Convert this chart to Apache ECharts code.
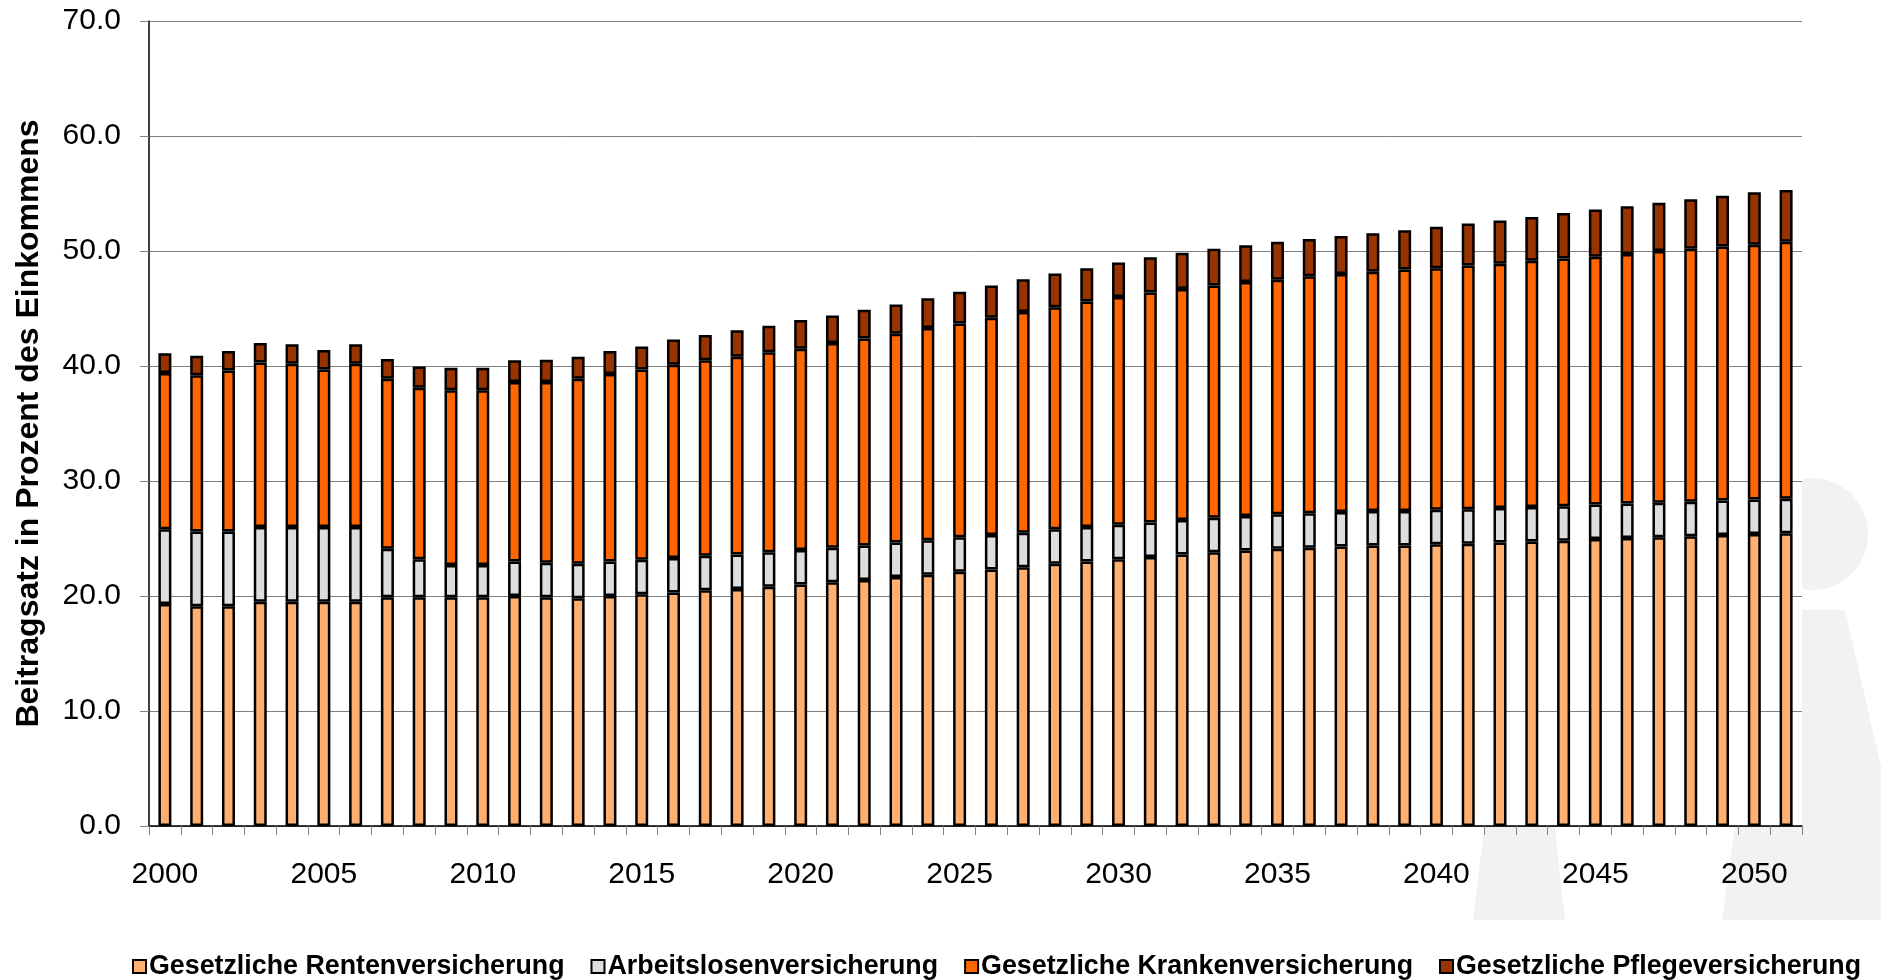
<!DOCTYPE html>
<html>
<head>
<meta charset="utf-8">
<script src="https://cdn.jsdelivr.net/npm/echarts@6/dist/echarts.min.js"></script>
<style>
  html, body { margin: 0; padding: 0; background: #fff; }
  #chart { width: 1881px; height: 980px; }
</style>
</head>
<body>
<div id="chart"></div>
<script>
var years = [
  '2000','2001','2002','2003','2004','2005','2006','2007','2008','2009',
  '2010','2011','2012','2013','2014','2015','2016','2017','2018','2019',
  '2020','2021','2022','2023','2024','2025','2026','2027','2028','2029',
  '2030','2031','2032','2033','2034','2035','2036','2037','2038','2039',
  '2040','2041','2042','2043','2044','2045','2046','2047','2048','2049',
  '2050','2051'
];

var renten = [
  19.3, 19.1, 19.1, 19.5, 19.5, 19.5, 19.5, 19.9, 19.9, 19.9,
  19.9, 20.0, 19.9, 19.8, 20.0, 20.15, 20.3, 20.5, 20.6, 20.8,
  21.0, 21.2, 21.4, 21.65, 21.85, 22.1, 22.3, 22.5, 22.8, 23.0,
  23.2, 23.4, 23.6, 23.8, 23.95, 24.1, 24.2, 24.3, 24.4, 24.4,
  24.5, 24.55, 24.65, 24.75, 24.8, 24.95, 25.05, 25.1, 25.2, 25.3,
  25.4, 25.45
];

var arbeitslosen = [
  6.5, 6.5, 6.5, 6.5, 6.5, 6.5, 6.5, 4.2, 3.3, 2.8,
  2.8, 3.0, 3.0, 3.0, 3.0, 3.0, 3.0, 3.0, 3.0, 3.0,
  3.0, 3.0, 3.0, 3.0, 3.0, 3.0, 3.0, 3.0, 3.0, 3.0,
  3.0, 3.0, 3.0, 3.0, 3.0, 3.0, 3.0, 3.0, 3.0, 3.0,
  3.0, 3.0, 3.0, 3.0, 3.0, 3.0, 3.0, 3.0, 3.0, 3.0,
  3.0, 3.0
];

var kranken = [
  13.6, 13.6, 14.0, 14.3, 14.2, 13.7, 14.2, 14.8, 14.9, 15.2,
  15.2, 15.6, 15.7, 16.1, 16.3, 16.55, 16.8, 17.0, 17.2, 17.4,
  17.5, 17.8, 18.0, 18.15, 18.45, 18.6, 18.9, 19.2, 19.3, 19.6,
  19.8, 20.0, 20.1, 20.2, 20.35, 20.4, 20.6, 20.7, 20.8, 21.0,
  21.0, 21.2, 21.25, 21.4, 21.55, 21.55, 21.7, 21.9, 22.0, 22.1,
  22.15, 22.35
];

var pflege = [
  1.7, 1.7, 1.7, 1.7, 1.7, 1.7, 1.7, 1.7, 1.85, 1.95,
  1.95, 1.9, 1.95, 1.9, 2.0, 2.0, 2.2, 2.2, 2.3, 2.3,
  2.5, 2.4, 2.5, 2.55, 2.6, 2.75, 2.8, 2.85, 2.95, 2.9,
  3.0, 3.05, 3.15, 3.2, 3.2, 3.3, 3.25, 3.3, 3.35, 3.4,
  3.6, 3.65, 3.75, 3.8, 3.95, 4.1, 4.15, 4.2, 4.3, 4.4,
  4.55, 4.5
];

var seriesNames = [
  'Gesetzliche Rentenversicherung',
  'Arbeitslosenversicherung',
  'Gesetzliche Krankenversicherung',
  'Gesetzliche Pflegeversicherung'
];
var seriesColors = ['#ffb070', '#dddddd', '#ff6600', '#993300'];
var seriesData = [renten, arbeitslosen, kranken, pflege];

var font = '"Liberation Sans", Arial, sans-serif';
var chart = echarts.init(document.getElementById('chart'), null, { renderer: 'canvas' });

// light grey logo shapes behind the plot (bottom right)
var logoFill = '#f2f2f2';

chart.setOption({
  animation: false,
  backgroundColor: '#fff',
  textStyle: { fontFamily: font },
  graphic: [
    { type: 'circle', z: -10, shape: { cx: 1812, cy: 534, r: 56 }, style: { fill: logoFill } },
    { type: 'polygon', z: -10, shape: { points: [[1765, 610], [1845, 610], [1900, 850], [1900, 920], [1722, 920]] }, style: { fill: logoFill } },
    { type: 'polygon', z: -10, shape: { points: [[1473, 920], [1565, 920], [1545, 740], [1495, 740]] }, style: { fill: logoFill } }
  ],
  grid: {
    left: 149, right: 79, top: 21, bottom: 154,
    show: true, backgroundColor: '#fff', borderWidth: 0
  },
  legend: {
    left: 132,
    top: 953,
    width: 1748,
    padding: 0,
    icon: 'rect',
    itemWidth: 13,
    itemHeight: 13,
    itemGap: 26,
    data: seriesNames,
    textStyle: { color: '#000', fontSize: 26.8, fontWeight: 'bold', fontFamily: font, padding: [0, 0, 0, -2] }
  },
  xAxis: {
    type: 'category',
    data: years,
    boundaryGap: true,
    axisLine: { lineStyle: { color: '#000', width: 1.5 } },
    axisTick: { show: true, interval: 0, length: 9, lineStyle: { color: '#808080' } },
    axisLabel: { interval: 4, color: '#000', fontSize: 30, margin: 34, fontFamily: font },
    splitLine: { show: false }
  },
  yAxis: {
    type: 'value',
    min: 0,
    max: 70,
    interval: 10,
    name: 'Beitragsatz in Prozent des Einkommens',
    nameLocation: 'middle',
    nameGap: 104,
    nameRotate: 90,
    nameTextStyle: { color: '#000', fontSize: 32, fontWeight: 'bold', fontFamily: font },
    axisLine: { show: true, lineStyle: { color: '#000', width: 1.5 } },
    axisTick: { show: true, length: 9, lineStyle: { color: '#808080' } },
    axisLabel: {
      color: '#000', fontSize: 30, margin: 28, fontFamily: font,
      formatter: function(v) { return v.toFixed(1); }
    },
    splitLine: { lineStyle: { color: '#808080', width: 1 } }
  },
  series: seriesNames.map(function(name, i) {
    return {
      name: name,
      type: 'bar',
      stack: 'total',
      barWidth: 13,
      data: seriesData[i],
      itemStyle: { color: seriesColors[i], borderColor: '#000', borderWidth: 2.5 }
    };
  })
});

window.addEventListener('resize', function() { chart.resize(); });
</script>
</body>
</html>
